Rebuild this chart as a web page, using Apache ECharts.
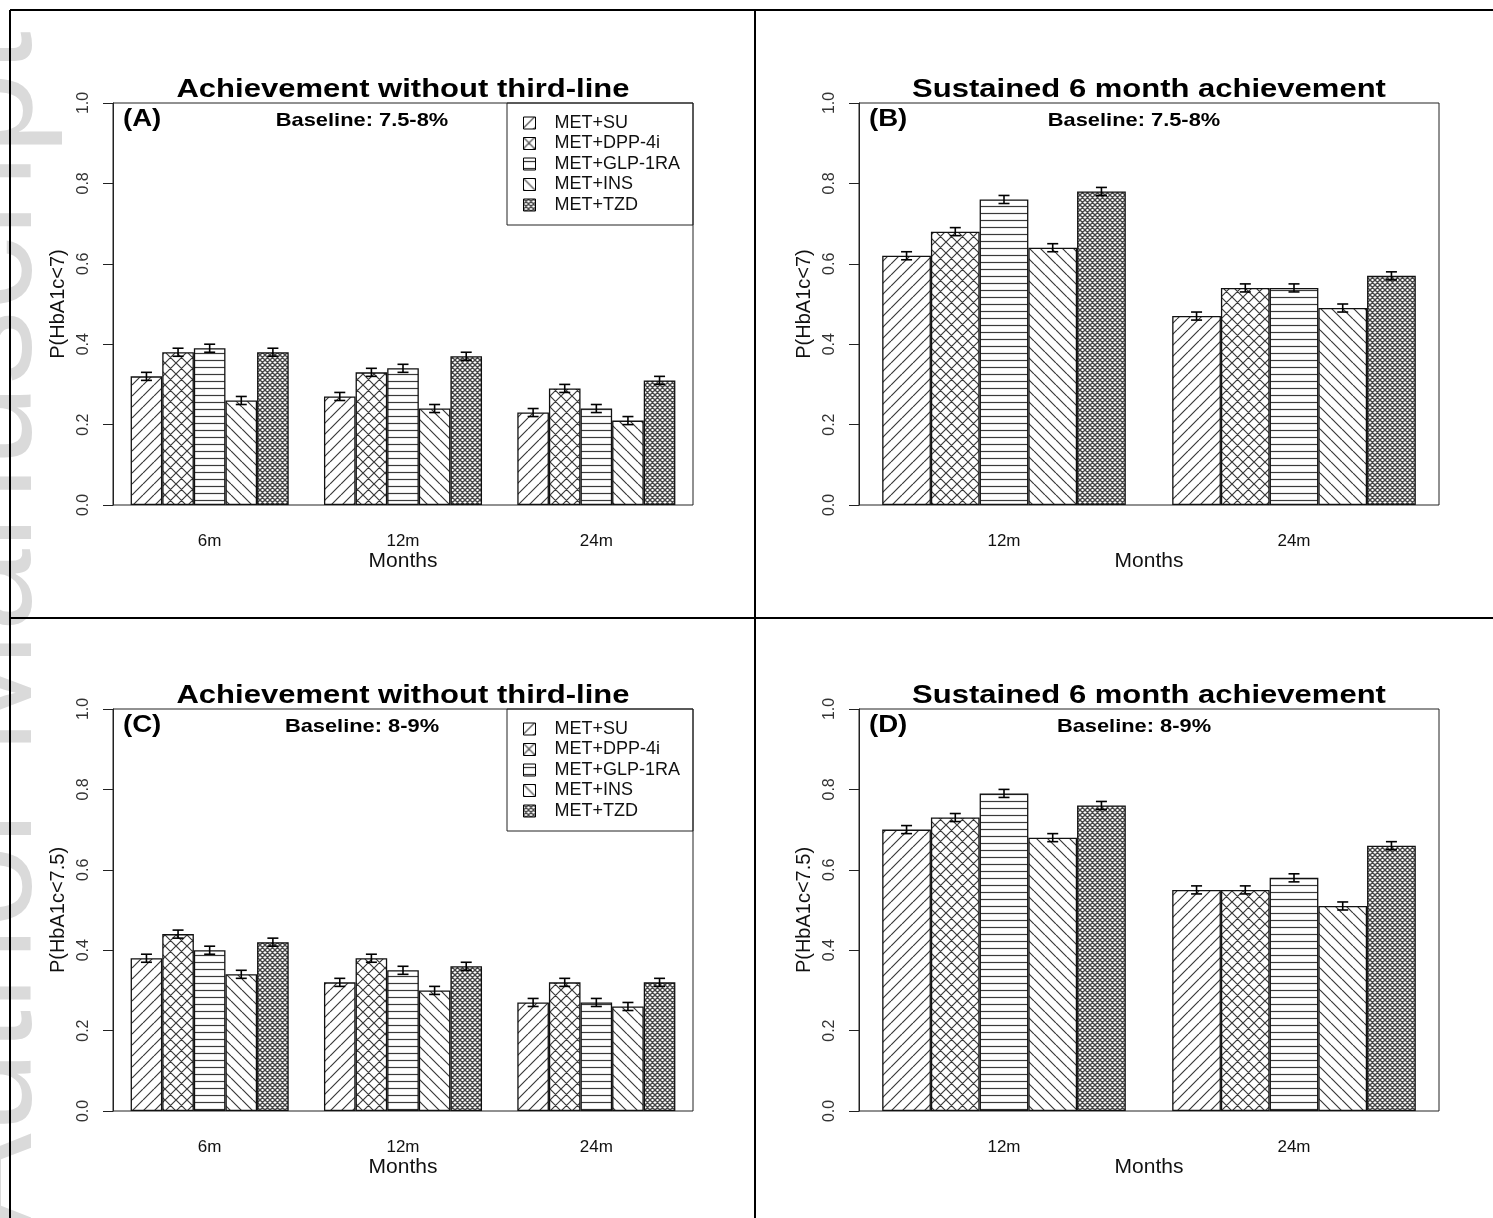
<!DOCTYPE html>
<html><head><meta charset="utf-8">
<script src="https://cdn.jsdelivr.net/npm/echarts@6/dist/echarts.min.js"></script>
<style>html,body{margin:0;padding:0;background:#fff}#c{width:1493px;height:1218px}</style>
</head><body><div id="c"></div>
<script>
// ---- data ----
const drugs = ['MET+SU', 'MET+DPP-4i', 'MET+GLP-1RA', 'MET+INS', 'MET+TZD'];
const monthsAC = ['6m', '12m', '24m'];
const monthsBD = ['12m', '24m'];
const yTicks = ['0.0', '0.2', '0.4', '0.6', '0.8', '1.0'];

// Panel A: achievement without third-line, baseline 7.5-8%
const aSU  = [0.32, 0.27, 0.23];
const aDPP = [0.38, 0.33, 0.29];
const aGLP = [0.39, 0.34, 0.24];
const aINS = [0.26, 0.24, 0.21];
const aTZD = [0.38, 0.37, 0.31];
// Panel B: sustained 6 month achievement, baseline 7.5-8%
const bSU  = [0.62, 0.47];
const bDPP = [0.68, 0.54];
const bGLP = [0.76, 0.54];
const bINS = [0.64, 0.49];
const bTZD = [0.78, 0.57];
// Panel C: achievement without third-line, baseline 8-9%
const cSU  = [0.38, 0.32, 0.27];
const cDPP = [0.44, 0.38, 0.32];
const cGLP = [0.40, 0.35, 0.27];
const cINS = [0.34, 0.30, 0.26];
const cTZD = [0.42, 0.36, 0.32];
// Panel D: sustained 6 month achievement, baseline 8-9%
const dSU  = [0.70, 0.55];
const dDPP = [0.73, 0.55];
const dGLP = [0.79, 0.58];
const dINS = [0.68, 0.51];
const dTZD = [0.76, 0.66];
// error bar half-widths (per drug)
const aErr = [0.01, 0.01, 0.01, 0.01, 0.01];
const bErr = [0.01, 0.01, 0.01, 0.01, 0.01];
const cErr = [0.01, 0.01, 0.01, 0.01, 0.01];
const dErr = [0.01, 0.01, 0.01, 0.01, 0.01];

const titles = ['Achievement without third-line', 'Sustained 6 month achievement', 'Achievement without third-line', 'Sustained 6 month achievement'];
const tags = ['(A)', '(B)', '(C)', '(D)'];
const baselines = ['Baseline: 7.5-8%', 'Baseline: 7.5-8%', 'Baseline: 8-9%', 'Baseline: 8-9%'];
const yNames = ['P(HbA1c<7)', 'P(HbA1c<7)', 'P(HbA1c<7.5)', 'P(HbA1c<7.5)'];

// ---- build ----
const FONT = '"Liberation Sans", Arial, Helvetica, sans-serif';
function makePattern(kind) {
  const s = kind === 'horiz' ? 7 : (kind === 'dense' ? 5 : 11);
  const c = document.createElement('canvas'); c.width = s; c.height = s;
  const g = c.getContext('2d');
  g.fillStyle = '#fff'; g.fillRect(0, 0, s, s);
  g.strokeStyle = kind === 'dense' ? '#474747' : '#3a3a3a';
  g.lineWidth = kind === 'dense' ? 1.4 : 1.2;
  g.beginPath();
  if (kind === 'fwd' || kind === 'cross' || kind === 'dense') { for (const o of [-s, 0, s]) { g.moveTo(o, s); g.lineTo(o + s, 0); } }
  if (kind === 'back' || kind === 'cross' || kind === 'dense') { for (const o of [-s, 0, s]) { g.moveTo(o, 0); g.lineTo(o + s, s); } }
  if (kind === 'horiz') { g.moveTo(0, s / 2); g.lineTo(s, s / 2); }
  g.stroke();
  return { image: c, repeat: 'repeat' };
}
const patterns = [makePattern('fwd'), makePattern('cross'), makePattern('horiz'), makePattern('back'), makePattern('dense')];

const panels = [
  { cats: monthsAC, vals: [aSU, aDPP, aGLP, aINS, aTZD], err: aErr, left: 113, top: 103, bw: 0.1635 },
  { cats: monthsBD, vals: [bSU, bDPP, bGLP, bINS, bTZD], err: bErr, left: 859, top: 103, bw: 0.168 },
  { cats: monthsAC, vals: [cSU, cDPP, cGLP, cINS, cTZD], err: cErr, left: 113, top: 709, bw: 0.1635 },
  { cats: monthsBD, vals: [dSU, dDPP, dGLP, dINS, dTZD], err: dErr, left: 859, top: 709, bw: 0.168 }
];
const W = 580, H = 402;

const grids = [], xAxes = [], yAxes = [], series = [], graphics = [];
panels.forEach((p, pi) => {
  grids.push({ left: p.left, top: p.top, width: W, height: H, show: true, borderColor: '#222', borderWidth: 1, backgroundColor: 'transparent', containLabel: false });
  xAxes.push({
    type: 'category', gridIndex: pi, data: p.cats,
    axisLine: { show: false }, axisTick: { show: false },
    axisLabel: { margin: 28, fontSize: 17, color: '#111', fontFamily: FONT },
    name: 'Months', nameLocation: 'middle', nameGap: 46,
    nameTextStyle: { fontSize: 21, color: '#111', fontFamily: FONT }
  });
  yAxes.push({
    type: 'value', gridIndex: pi, min: 0, max: 1, interval: 0.2,
    splitLine: { show: false },
    axisLine: { show: true, lineStyle: { color: '#222', width: 1 } },
    axisTick: { show: true, length: 10, lineStyle: { color: '#222', width: 1 } },
    axisLabel: { rotate: 90, margin: 21, fontSize: 16, color: '#333', fontFamily: FONT,
      formatter: v => yTicks[Math.round(v * 5)] },
    name: yNames[pi], nameLocation: 'middle', nameGap: 45,
    nameTextStyle: { fontSize: 20, color: '#111', fontFamily: FONT }
  });
  drugs.forEach((d, k) => {
    series.push({
      type: 'bar', name: d, xAxisIndex: pi, yAxisIndex: pi,
      data: p.vals[k], barWidth: (p.bw * 100) + '%', barGap: '0%',
      itemStyle: { color: patterns[k], borderColor: '#111', borderWidth: 1.3 },
      emphasis: { disabled: true }, silent: true
    });
  });
  const errData = [];
  p.cats.forEach((c, i) => drugs.forEach((d, k) => errData.push([i, k, p.vals[k][i], p.err[k]])));
  const bwFrac = p.bw;
  series.push({
    type: 'custom', xAxisIndex: pi, yAxisIndex: pi, z: 10, silent: true,
    encode: { x: 0, y: 2 },
    data: errData,
    renderItem: (params, api) => {
      const i = api.value(0), k = api.value(1), v = api.value(2), e = api.value(3);
      const band = api.size([1, 0])[0];
      const cx = api.coord([i, v])[0] + (k - 2) * band * bwFrac;
      const yt = api.coord([i, v + e])[1], yb = api.coord([i, v - e])[1];
      const st = { stroke: '#000', lineWidth: 1.6 };
      return { type: 'group', children: [
        { type: 'line', shape: { x1: cx, y1: yt, x2: cx, y2: yb }, style: st },
        { type: 'line', shape: { x1: cx - 5.5, y1: yt, x2: cx + 5.5, y2: yt }, style: st },
        { type: 'line', shape: { x1: cx - 5.5, y1: yb, x2: cx + 5.5, y2: yb }, style: st }
      ] };
    }
  });
  // titles and labels
  const cx = p.left + W / 2;
  graphics.push({ type: 'text', x: cx, y: p.top - 13, scaleX: 1.17, style: { text: titles[pi], font: 'bold 26.5px ' + FONT, fill: '#000', textAlign: 'center', textVerticalAlign: 'middle' } });
  graphics.push({ type: 'text', x: p.left + 10, y: p.top + 16, scaleX: 1.15, style: { text: tags[pi], font: 'bold 24px ' + FONT, fill: '#000', textAlign: 'left', textVerticalAlign: 'middle' } });
  graphics.push({ type: 'text', x: p.left + (pi % 2 === 0 ? 249 : 275), y: p.top + 18, scaleX: 1.15, style: { text: baselines[pi], font: 'bold 19px ' + FONT, fill: '#000', textAlign: 'center', textVerticalAlign: 'middle' } });
});

// legend frames (panels A and C)
[103, 709].forEach(t => graphics.push({ type: 'rect', shape: { x: 507, y: t, width: 186, height: 122 }, style: { fill: '#fff', stroke: '#222', lineWidth: 1 }, z: -1 }));

// figure frame lines
const frame = [[10, 10, 1493, 10], [10, 10, 10, 1218], [755, 10, 755, 1218], [10, 618, 1493, 618]];
frame.forEach(f => graphics.push({ type: 'line', shape: { x1: f[0], y1: f[1], x2: f[2], y2: f[3] }, style: { stroke: '#000', lineWidth: 2 }, z: 5 }));

// watermark
graphics.unshift({ type: 'text', x: 64, y: 1232, rotation: Math.PI / 2, z: -20, silent: true,
  style: { text: 'Author Manuscript', font: '148px ' + FONT, fill: '#dadada', textAlign: 'left', textVerticalAlign: 'bottom' } });

const legendBase = {
  data: drugs, orient: 'vertical', left: 523, icon: 'rect', itemWidth: 12, itemHeight: 12, itemGap: 0.5,
  padding: 0, selectedMode: false,
  itemStyle: { borderColor: '#000', borderWidth: 1 },
  textStyle: { fontSize: 18, lineHeight: 20, color: '#111', fontFamily: FONT, padding: [0, 0, 0, 14] }
};

const chart = echarts.init(document.getElementById('c'), null, { renderer: 'canvas' });
chart.setOption({
  animation: false,
  backgroundColor: '#fff',
  textStyle: { fontFamily: FONT },
  grid: grids, xAxis: xAxes, yAxis: yAxes,
  legend: [Object.assign({}, legendBase, { top: 113 }), Object.assign({}, legendBase, { top: 719 })],
  graphic: { elements: graphics },
  series: series
});
</script></body></html>
